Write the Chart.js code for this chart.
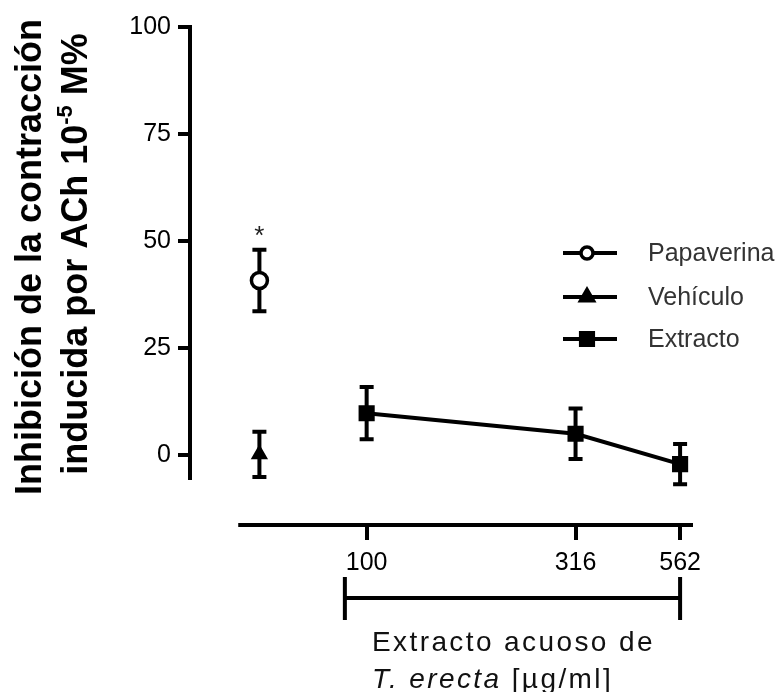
<!DOCTYPE html>
<html>
<head>
<meta charset="utf-8">
<script src="https://cdn.jsdelivr.net/npm/chart.js@4/dist/chart.umd.min.js"></script>
<style>
  html, body { margin: 0; padding: 0; background: #fff; }
  #wrap { width: 783px; height: 692px; }
</style>
</head>
<body>
<div id="wrap"><canvas id="myChart" width="783" height="692"></canvas></div>
<script>
// dose-response data (mean +/- SEM)
const doses = [100, 316, 562];
const doseLabels = ['100', '316', '562'];
const extractMean = [9.8, 5.0, -2.1];
const extractSem = [6.1, 5.9, 4.7];
const ctrlDose = 55.4; // column where the two controls sit
const papaverinaMean = [40.8];
const papaverinaSem = [7.2];
const vehiculoMean = [0.2];
const vehiculoSem = [5.3];
const yTicks = [0, 25, 50, 75, 100];
const seriesNames = ['Papaverina', 'Vehículo', 'Extracto'];

const FONT = '"Liberation Sans", Arial, sans-serif';
const LW = 4; // stroke width used for axes, bars and lines

// error bars, drawn under the markers
const errorBars = {
  id: 'errorBars',
  beforeDatasetsDraw(chart) {
    const ctx = chart.ctx, xs = chart.scales.x, ys = chart.scales.y;
    ctx.save();
    ctx.strokeStyle = '#000';
    ctx.lineWidth = LW;
    chart.data.datasets.forEach(ds => {
      ds.data.forEach((p, i) => {
        const x = xs.getPixelForValue(p.x);
        const top = ys.getPixelForValue(p.y + ds.sem[i]);
        const bot = ys.getPixelForValue(p.y - ds.sem[i]);
        ctx.beginPath();
        ctx.moveTo(x, top); ctx.lineTo(x, bot);
        ctx.moveTo(x - 7, top); ctx.lineTo(x + 7, top);
        ctx.moveTo(x - 7, bot); ctx.lineTo(x + 7, bot);
        ctx.stroke();
      });
    });
    ctx.restore();
  }
};

// axis lines, titles, bracket, legend and the significance mark
const decorations = {
  id: 'decorations',
  afterDraw(chart) {
    const ctx = chart.ctx, xs = chart.scales.x, ys = chart.scales.y;
    const area = chart.chartArea;
    ctx.save();
    ctx.strokeStyle = '#000';
    ctx.lineWidth = LW;

    // y axis line stops just below zero
    ctx.beginPath();
    ctx.moveTo(area.left, ys.getPixelForValue(100) - 2);
    ctx.lineTo(area.left, ys.getPixelForValue(-5.8));
    ctx.stroke();

    // x axis line, detached from the y axis
    ctx.beginPath();
    ctx.moveTo(xs.getPixelForValue(49.3), area.bottom);
    ctx.lineTo(area.right, area.bottom);
    ctx.stroke();

    // bracket under the dose labels
    const bx1 = xs.getPixelForValue(88.7), bx2 = xs.getPixelForValue(562);
    ctx.beginPath();
    ctx.moveTo(bx1, 577); ctx.lineTo(bx1, 620);
    ctx.moveTo(bx2, 577); ctx.lineTo(bx2, 620);
    ctx.moveTo(bx1, 598); ctx.lineTo(bx2, 598);
    ctx.stroke();

    // x title
    ctx.fillStyle = '#111';
    ctx.textAlign = 'left';
    ctx.textBaseline = 'alphabetic';
    ctx.letterSpacing = '2.4px';
    ctx.font = '28px ' + FONT;
    ctx.fillText('Extracto acuoso de', 372, 651);
    ctx.font = 'italic 28px ' + FONT;
    ctx.fillText('T. erecta', 372, 688);
    const w1 = ctx.measureText('T. erecta ').width;
    ctx.font = '28px ' + FONT;
    ctx.fillText('[µg/ml]', 372 + w1, 688);
    ctx.letterSpacing = '0px';

    // y title, two rotated lines
    ctx.fillStyle = '#000';
    ctx.font = 'bold 36px ' + FONT;
    ctx.textAlign = 'center';
    ctx.save();
    ctx.translate(41, 257);
    ctx.rotate(-Math.PI / 2);
    ctx.fillText('Inhibición de la contracción', 0, 0);
    ctx.restore();

    ctx.save();
    ctx.translate(87, 254);
    ctx.rotate(-Math.PI / 2);
    ctx.textAlign = 'left';
    const partA = 'inducida por ACh 10', partB = '-5', partC = ' M%';
    const big = 'bold 36px ' + FONT, small = 'bold 22px ' + FONT;
    ctx.font = big; const wa = ctx.measureText(partA).width, wc = ctx.measureText(partC).width;
    ctx.font = small; const wb = ctx.measureText(partB).width;
    let x0 = -(wa + wb + wc) / 2;
    ctx.font = big; ctx.fillText(partA, x0, 0); x0 += wa;
    ctx.font = small; ctx.fillText(partB, x0, -15); x0 += wb;
    ctx.font = big; ctx.fillText(partC, x0, 0);
    ctx.restore();

    // asterisk over the papaverine point
    const pap = chart.data.datasets[0];
    ctx.font = '26px ' + FONT;
    ctx.textAlign = 'center';
    ctx.fillStyle = '#222';
    ctx.fillText('*', xs.getPixelForValue(pap.data[0].x),
      ys.getPixelForValue(pap.data[0].y + pap.sem[0]) - 6);

    // legend
    const rows = [253, 297, 339];
    chart.data.datasets.forEach((ds, i) => {
      const y = rows[i];
      ctx.strokeStyle = '#000';
      ctx.lineWidth = LW;
      ctx.beginPath();
      ctx.moveTo(563, y); ctx.lineTo(617, y);
      ctx.stroke();
      ctx.fillStyle = ds.pointBackgroundColor;
      ctx.lineWidth = ds.pointBorderWidth;
      Chart.helpers.drawPoint(ctx, {
        pointStyle: ds.pointStyle,
        radius: ds.legendRadius,
        rotation: 0,
        borderWidth: ds.pointBorderWidth
      }, 587, y);
      ctx.fillStyle = '#333';
      ctx.font = '25px ' + FONT;
      ctx.textAlign = 'left';
      ctx.textBaseline = 'middle';
      ctx.fillText(seriesNames[i], 648, y + 1);
      ctx.textBaseline = 'alphabetic';
    });
    ctx.restore();
  }
};

const toPoints = (xsArr, ysArr) => ysArr.map((v, i) => ({ x: xsArr[i], y: v }));

new Chart(document.getElementById('myChart'), {
  type: 'line',
  data: {
    datasets: [
      {
        label: seriesNames[0],
        data: toPoints([ctrlDose], papaverinaMean),
        sem: papaverinaSem,
        showLine: false,
        pointStyle: 'circle',
        pointRadius: 8,
        legendRadius: 6,
        pointBorderWidth: 3.5,
        pointBackgroundColor: '#fff',
        pointBorderColor: '#000'
      },
      {
        label: seriesNames[1],
        data: toPoints([ctrlDose], vehiculoMean),
        sem: vehiculoSem,
        showLine: false,
        pointStyle: 'triangle',
        pointRadius: 8,
        legendRadius: 9,
        pointBorderWidth: 2,
        pointBackgroundColor: '#000',
        pointBorderColor: '#000'
      },
      {
        label: seriesNames[2],
        data: toPoints(doses, extractMean),
        sem: extractSem,
        borderColor: '#000',
        borderWidth: LW,
        pointStyle: 'rect',
        pointRadius: 10,
        legendRadius: 10,
        pointBorderWidth: 2,
        pointBackgroundColor: '#000',
        pointBorderColor: '#000'
      }
    ]
  },
  options: {
    responsive: false,
    animation: false,
    layout: { padding: { left: 120, top: 27, right: 90, bottom: 117 } },
    plugins: { legend: { display: false }, tooltip: { enabled: false } },
    elements: { line: { tension: 0 } },
    scales: {
      x: {
        type: 'logarithmic',
        min: 37.8,
        max: 603.4,
        afterBuildTicks: s => { s.ticks = doses.map(v => ({ value: v })); },
        afterFit: s => { s.height = 50; },
        border: { display: false },
        grid: { drawOnChartArea: false, drawTicks: true, tickLength: 15, tickWidth: LW, tickColor: '#000', lineWidth: LW },
        ticks: {
          autoSkip: false,
          maxRotation: 0,
          padding: 8,
          color: '#000',
          font: { family: FONT, size: 25 },
          callback: (v) => doseLabels[doses.indexOf(v)] ?? ''
        }
      },
      y: {
        min: -16.3,
        max: 100,
        afterBuildTicks: s => { s.ticks = yTicks.map(v => ({ value: v })); },
        afterFit: s => { s.width = 70; },
        border: { display: false },
        grid: { drawOnChartArea: false, drawTicks: true, tickLength: 12, tickWidth: LW, tickColor: '#000', lineWidth: LW },
        ticks: {
          padding: 7,
          color: '#000',
          font: { family: FONT, size: 25 }
        }
      }
    }
  },
  plugins: [errorBars, decorations]
});
</script>
</body>
</html>
